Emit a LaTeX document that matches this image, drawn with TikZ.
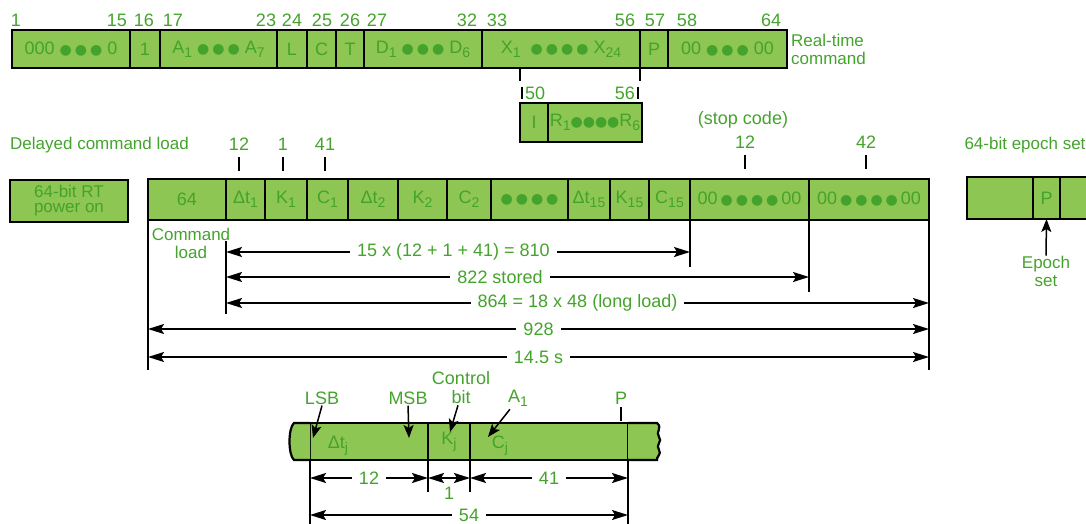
\documentclass[tikz,border=0pt]{standalone}
\usepackage{fontspec}
\setmainfont{Liberation Sans}
\newfontfamily\dotfont{DejaVu Sans}
\usetikzlibrary{arrows.meta, fit}

\definecolor{regfill}{RGB}{141,198,82}
\definecolor{labgreen}{RGB}{68,163,44}

\newcommand{\sbs}[1]{\raisebox{-0.4ex}{\fontsize{14}{14}\selectfont #1}}
\newcommand{\blt}{{\dotfont\fontsize{14}{14}\selectfont ●}}

\tikzset{
    cell/.style={draw=black, line width=1.1pt, fill=regfill, inner sep=0pt, outer sep=0pt,
        text=labgreen, font=\fontsize{18}{18}\selectfont},
    regframe/.style={draw=black, line width=2.4pt, inner sep=0pt, outer sep=0pt},
    bitno/.style={text=labgreen, font=\fontsize{18}{18}\selectfont, inner sep=1pt},
    caption/.style={text=labgreen, font=\fontsize{17}{18}\selectfont, align=center, inner sep=0pt},
    ext/.style={line width=1.2pt},
    dim/.style={{Stealth[length=16pt,width=10pt,inset=3pt]}-{Stealth[length=16pt,width=10pt,inset=3pt]}, line width=1.6pt},
    dimlab/.style={fill=white, text=labgreen, font=\fontsize{18}{18}\selectfont, inner xsep=7pt, inner ysep=1pt},
    pointer/.style={-{Stealth[length=13pt,width=10pt,inset=3pt]}, line width=1.5pt},
}

\begin{document}
\begin{tikzpicture}[x=1pt, y=-1pt]
\useasboundingbox (0,0) rectangle (1086,524);
\clip (0,0) rectangle (1086,524);

% real-time command word
\foreach \xa/\xb/\txt/\nm in {12/130/{000 \blt\,\blt\,\blt\ 0}/r1, 130/160/1/r2,
    160/277/{A\sbs{1} \blt\,\blt\,\blt\ A\sbs{7}}/r3, 277/307/L/r4, 307/336/C/r5, 336/364/T/r6,
    364/482/{D\sbs{1} \blt\,\blt\,\blt\ D\sbs{6}}/r7,
    482/640/{X\sbs{1} \ \blt\,\blt\,\blt\,\blt\ X\sbs{24}}/r8,
    640/668/P/r9, 668/787/{00 \blt\,\blt\,\blt\ 00}/r10} {
  \pgfmathsetmacro\w{\xb-\xa}
  \pgfmathsetmacro\xc{(\xa+\xb)/2}
  \node[cell, minimum width=\w pt, minimum height=38pt] (\nm) at (\xc,49) {\txt};
}
\node[regframe, fit=(r1)(r10)] (rtcmd) {};

\foreach \x/\bn in {16/1, 117/15, 144/16, 173/17, 266/23, 292/24, 322/25, 350/26, 377/27,
    467/32, 497/33, 625/56, 655/57, 687/58, 771/64}
  \node[bitno] (t\bn) at (\x,20) {\bn};
\node[caption, anchor=west, align=left] (rtlab) at (791,49) {Real-time\\command};

% X field taps and the R word
\draw[ext] (r8.south west) ++(38,0) -- ++(0,13);
\draw[ext] (r8.south east) -- ++(0,13);
\node[bitno, anchor=west] (r50) at (524,93) {50};
\node[bitno, anchor=east] (r56) at (636,93) {56};
\draw[ext] (r50.west) ++(-2,-6) -- ++(0,12);
\draw[ext] (r56.east) ++(2,-6) -- ++(0,12);
\node[cell, minimum width=28pt, minimum height=39pt] (rI) at (534,122.5) {I};
\node[cell, minimum width=94pt, minimum height=39pt] (rR) at (595,122.5) {R\sbs{1}\blt\blt\blt\blt R\sbs{6}};
\node[regframe, fit=(rI)(rR)] (rword) {};

% delayed command load
\node[caption, anchor=west] (dcl) at (10,145) {Delayed command load};
\node[cell, minimum width=118pt, minimum height=42pt, align=center,
    font=\fontsize{17}{15}\selectfont, line width=2.4pt] (pwr) at (69,201) {64-bit RT\\power on};

\foreach \xa/\xb/\txt/\nm in {148/226/64/c0, 226/265/{Δt\sbs{1}}/c1, 265/307/{K\sbs{1}}/c2,
    307/348/{C\sbs{1}}/c3, 348/398/{Δt\sbs{2}}/c4, 398/447/{K\sbs{2}}/c5, 447/491/{C\sbs{2}}/c6,
    491/568/{\blt\,\blt\,\blt\,\blt}/c7, 568/610/{Δt\sbs{15}}/c8, 610/649/{K\sbs{15}}/c9,
    649/690/{C\sbs{15}}/c10, 690/809/{00\,\blt\,\blt\,\blt\,\blt\,00}/c11,
    809/929/{00\,\blt\,\blt\,\blt\,\blt\,00}/c12} {
  \pgfmathsetmacro\w{\xb-\xa}
  \pgfmathsetmacro\xc{(\xa+\xb)/2}
  \node[cell, minimum width=\w pt, minimum height=41pt] (\nm) at (\xc,199.5) {\txt};
}
\node[regframe, fit=(c0)(c12)] (dcmd) {};

\foreach \x/\y/\txt/\nm in {239/144/12/m1, 283/144/1/m2, 325/144/41/m3, 745/142/12/m4, 866/142/42/m5} {
  \node[bitno] (\nm) at (\x,\y) {\txt};
  \draw[ext] (\nm.south) ++(0,6) -- ++(0,14);
}
\node[bitno] (stopc) at (743,120) {(stop code)};

% epoch set
\node[caption] (eslab) at (1025,145) {64-bit epoch set};
\node[cell, minimum width=66pt, minimum height=42pt] (e1) at (1000,198) {};
\node[cell, minimum width=27pt, minimum height=42pt] (e2) at (1046.5,198) {P};
\node[cell, minimum width=40pt, minimum height=42pt] (e3) at (1080,198) {};
\node[regframe, fit=(e1)(e3)] (epoch) {};
\node[caption] (eplab) at (1046,271) {Epoch\\set};
\draw[pointer] (eplab.north) -- (e2.south);

% lengths
\node[caption] (cmdlab) at (191,243) {Command\\load};
\draw[ext] (c0.south west) -- ++(0,150);
\draw[ext] (c1.south west) ++(0,21) -- ++(0,73);
\draw[ext] (c10.south east) -- ++(0,47);
\draw[ext] (c11.south east) -- ++(0,72);
\draw[ext] (c12.south east) -- ++(0,150);
\coordinate (a810) at (226,252);
\coordinate (b810) at (690,252);
\coordinate (a822) at (226,277);
\coordinate (b822) at (809,277);
\coordinate (a864) at (226,303);
\coordinate (b864) at (929,303);
\coordinate (a928) at (148,329);
\coordinate (b928) at (929,329);
\coordinate (asec) at (148,357);
\coordinate (bsec) at (929,357);
\draw[dim] (a810) -- node[dimlab, pos=0.49] (l810) {15 x (12 + 1 + 41) = 810} (b810);
\draw[dim] (a822) -- node[dimlab, pos=0.47] (l822) {822 stored} (b822);
\draw[dim] (a864) -- node[dimlab] (l864) {864 = 18 x 48 (long load)} (b864);
\draw[dim] (a928) -- node[dimlab] (l928) {928} (b928);
\draw[dim] (asec) -- node[dimlab] (lsec) {14.5 s} (bsec);

% one command, bit order
\node[cell, minimum width=118pt, minimum height=37pt] (bdt) at (369,441.5) {};
\node[cell, minimum width=42pt, minimum height=37pt] (bk) at (449,441.5) {K\sbs{j}};
\node[cell, minimum width=158pt, minimum height=37pt] (bc) at (549,441.5) {};
\fill[regfill] (bdt.north west) -- (294,423) .. controls (288,428) and (288,455) .. (294,460)
    -- (bdt.south west) -- cycle;
\draw[line width=2.2pt] (bdt.north west) -- (294,423) .. controls (288,428) and (288,455) .. (294,460)
    -- (bdt.south west);
\fill[regfill] (bc.north east) -- (657,423) .. controls (663,428) and (655,432) .. (659,437)
    .. controls (663,441) and (655,445) .. (659,450) .. controls (662,454) and (656,457) .. (657,460)
    -- (bc.south east) -- cycle;
\draw[line width=2.2pt] (bc.north east) -- (657,423) .. controls (663,428) and (655,432) .. (659,437)
    .. controls (663,441) and (655,445) .. (659,450) .. controls (662,454) and (656,457) .. (657,460)
    -- (bc.south east);
\draw[line width=2.2pt] (bdt.north west) -- (bc.north east);
\draw[line width=2.2pt] (bdt.south west) -- (bc.south east);
\node[bitno] (tdt) at (338,446) {Δt\sbs{j}};
\node[bitno] (tcj) at (500,446) {C\sbs{j}};

\node[bitno] (lsb) at (322,398) {LSB};
\node[bitno] (msb) at (408,398) {MSB};
\node[bitno, align=center, font=\fontsize{18}{19}\selectfont] (ctl) at (461,388) {Control\\bit};
\node[bitno] (aone) at (518,398) {A\sbs{1}};
\node[bitno] (pbit) at (621,398) {P};
\coordinate (lsbtip) at (313,438);
\coordinate (msbtip) at (409,438);
\coordinate (ctltip) at (450,432);
\coordinate (aonetip) at (488,437);
\draw[pointer] (lsb.south) -- (lsbtip);
\draw[pointer] (msb.south) -- (msbtip);
\draw[pointer] (ctl.south) ++(-3,0) -- (ctltip);
\draw[pointer] (aone.south west) ++(3,2) -- (aonetip);
\draw[ext] (pbit.south) ++(0,2) -- ++(0,14);

\draw[ext] (bdt.south west) -- ++(0,64);
\draw[ext] (bdt.south east) -- ++(0,32);
\draw[ext] (bk.south east) -- ++(0,32);
\draw[ext] (bc.south east) -- ++(0,64);
\coordinate (q1) at (310,478);
\coordinate (q2) at (428,478);
\coordinate (q3) at (470,478);
\coordinate (q4) at (628,478);
\coordinate (s1) at (310,515);
\coordinate (s2) at (628,515);
\draw[dim] (q1) -- node[dimlab] (l12) {12} (q2);
\draw[dim] (q2) -- (q3);
\node[bitno] (l1) at (449,493) {1};
\draw[dim] (q3) -- node[dimlab] (l41) {41} (q4);
\draw[dim] (s1) -- node[dimlab] (l54) {54} (s2);
\end{tikzpicture}
\end{document}
